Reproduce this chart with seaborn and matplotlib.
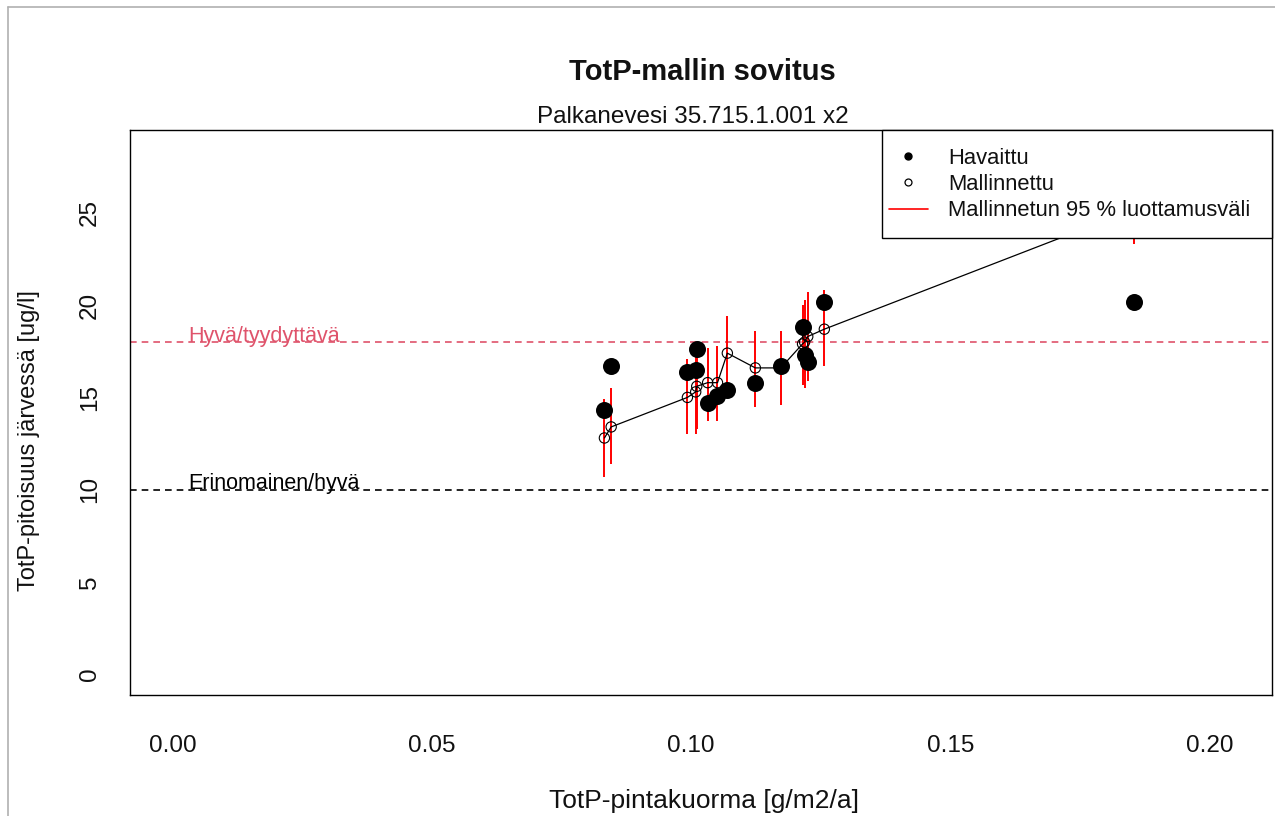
import matplotlib
matplotlib.use("Agg")
import matplotlib.pyplot as plt
import seaborn as sns
import pandas as pd
from matplotlib.lines import Line2D
from matplotlib.patches import Rectangle

# Data
load = [0.0833, 0.0846, 0.0993, 0.1009, 0.1011, 0.1032, 0.1051, 0.1070,
        0.1124, 0.1173, 0.1215, 0.1219, 0.1225, 0.1257, 0.1855]
observed = [14.3, 16.7, 16.4, 16.5, 17.6, 14.7, 15.1, 15.4,
            15.8, 16.7, 18.8, 17.3, 16.9, 20.2, 20.2]
modelled = [12.8, 13.4, 15.0, 15.3, 15.6, 15.8, 15.8, 17.4,
            16.6, 16.6, 17.9, 18.0, 18.3, 18.7, 25.2]
ci_low = [10.7, 11.4, 13.0, 13.0, 13.3, 13.7, 13.7, 15.2,
          14.5, 14.6, 15.7, 15.5, 15.9, 16.7, 23.3]
ci_high = [14.9, 15.5, 17.1, 17.6, 17.9, 17.7, 17.8, 19.4,
           18.6, 18.6, 20.0, 20.3, 20.7, 20.8, 27.1]
thresholds = [18, 10]
threshold_labels = ["Hyvä/tyydyttävä", "Erinomainen/hyvä"]
threshold_colors = ["#DF536B", "black"]

df = pd.DataFrame({"load": load, "obs": observed, "mod": modelled,
                   "lo": ci_low, "hi": ci_high})

sns.set_style("white")
plt.rcParams["font.family"] = ["Liberation Sans", "DejaVu Sans"]

fig = plt.figure(figsize=(12.75, 8.16), dpi=100)
ax = fig.add_axes([0.102, 0.1483, 0.8956, 0.6924])

# confidence intervals
ax.vlines(df["load"], df["lo"], df["hi"], color="red", lw=1.4, zorder=2)

# observed
sns.scatterplot(data=df, x="load", y="obs", ax=ax, color="black", s=150,
                marker="o", edgecolor="black", linewidth=0, zorder=3, legend=False)
# modelled line + points
sns.lineplot(data=df, x="load", y="mod", ax=ax, color="black", lw=0.9,
             estimator=None, sort=True, zorder=4, legend=False)
sns.scatterplot(data=df, x="load", y="mod", ax=ax, s=55, marker="o",
                facecolor="none", edgecolor="black", linewidth=0.8, zorder=5, legend=False)

# threshold lines
for val, lab, col in zip(thresholds, threshold_labels, threshold_colors):
    ax.axhline(val, color=col, ls=(0, (4, 3)), lw=1.2, zorder=1)
    ax.text(0.003, val + 0.02, lab, color=col, fontsize=15.5, ha="left", va="baseline")

ax.set_xlim(-0.00816, 0.212)
ax.set_ylim(-1.135, 29.5)
ax.set_xticks([0.00, 0.05, 0.10, 0.15, 0.20])
ax.set_xticklabels(["0.00", "0.05", "0.10", "0.15", "0.20"])
ax.set_yticks([0, 5, 10, 15, 20, 25])
ax.set_yticklabels(["0", "5", "10", "15", "20", "25"], rotation=90, va="center")
ax.tick_params(axis="both", direction="out", length=9, width=0.9, colors="black",
               labelsize=17.5, labelcolor="#111111")
ax.tick_params(axis="x", pad=20)
ax.tick_params(axis="y", pad=12)
for s in ax.spines.values():
    s.set_color("black")
    s.set_linewidth(1.0)

ax.set_xlabel("TotP-pintakuorma [g/m2/a]", fontsize=19, color="#111111")
ax.set_ylabel("TotP-pitoisuus järvessä [ug/l]", fontsize=17, color="#111111")
ax.xaxis.set_label_coords(0.503, -0.166)
ax.yaxis.set_label_coords(-0.079, 0.451)

fig.text(0.5505, 0.912, "TotP-mallin sovitus", ha="center", va="center",
         fontsize=21, fontweight="bold", color="#111111")
fig.text(0.543, 0.857, "Palkanevesi 35.715.1.001 x2", ha="center", va="center",
         fontsize=17.5, color="#111111")

# legend box
ax.add_patch(Rectangle((0.6585, 0.8088), 0.3415, 0.1912, transform=ax.transAxes,
                       facecolor="white", edgecolor="black", lw=1.0, zorder=9,
                       clip_on=False))
handles = [
    Line2D([], [], marker="o", color="black", ls="none", markersize=5),
    Line2D([], [], marker="o", markerfacecolor="white", markeredgecolor="black",
           ls="none", markersize=5, markeredgewidth=0.9),
    Line2D([], [], color="red", lw=1.2),
]
leg = ax.legend(handles, ["Havaittu", "Mallinnettu", "Mallinnetun 95 % luottamusväli"],
                loc="upper left", bbox_to_anchor=(0.6585, 0.9796), borderaxespad=0,
                frameon=False, fontsize=15.8, handlelength=1.8, handletextpad=0.9,
                borderpad=0.3, labelspacing=0.23)
leg.set_zorder(10)
for t in leg.get_texts():
    t.set_color("#111111")

# screenshot frame
fig.add_artist(Line2D([0.0063, 0.0063], [0, 0.9914], color="#b0b0b0", lw=1.2))
fig.add_artist(Line2D([0.0063, 1.0], [0.9914, 0.9914], color="#b0b0b0", lw=1.2))

fig.savefig("out.png", dpi=100)
